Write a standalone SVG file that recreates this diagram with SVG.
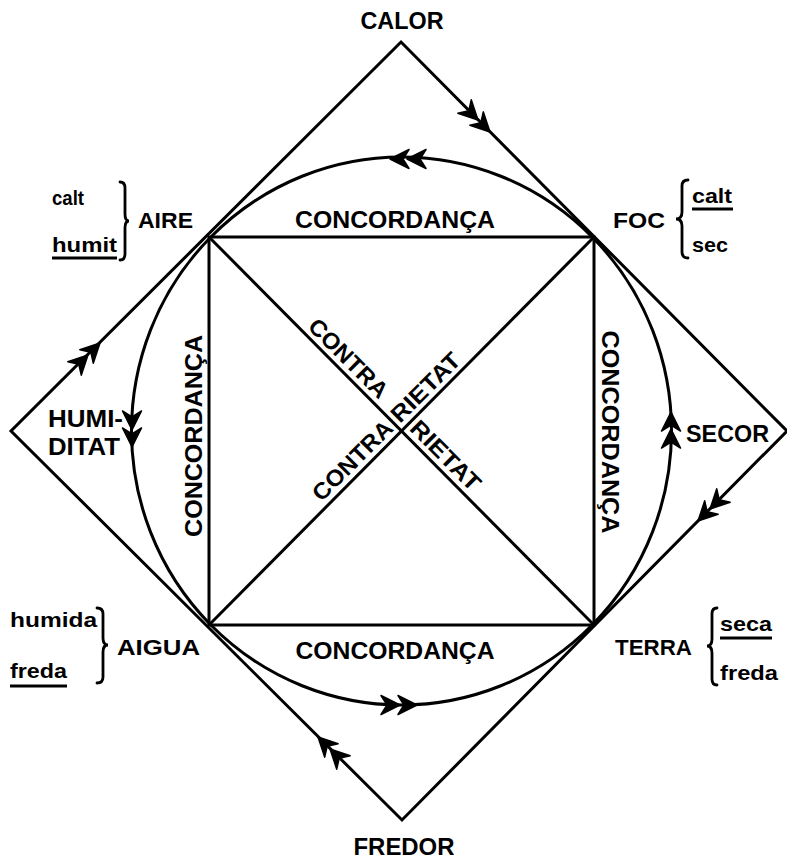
<svg xmlns="http://www.w3.org/2000/svg" width="787" height="859" viewBox="0 0 787 859">
<style>
.ln{fill:none;stroke:#000;stroke-width:3;stroke-linejoin:miter}
.br{fill:none;stroke:#000;stroke-width:2.8;stroke-linecap:round}
.t{font-family:"Liberation Sans",Arial,sans-serif;font-weight:bold;fill:#000}
.cap{font-size:23px}
.nm{font-size:22px}
.lc{font-size:21px}
.ul{stroke:#000;stroke-width:3}
.ah{fill:#000;stroke:#000;stroke-width:1.5;stroke-linejoin:round}
</style>
<defs>
<g id="dbl" class="ah">
<path d="M0,0 L-19,-9.5 L-13,0 L-19,9.5 Z"/>
<path d="M-17,0 L-36,-9.5 L-30,0 L-36,9.5 Z"/>
</g>
</defs>
<rect width="787" height="859" fill="#fff"/>
<g id="connectors">
<polygon class="ln" points="401,42 787,431 402,820 11,431"/>
<ellipse class="ln" cx="401.5" cy="431" rx="270" ry="274"/>
<rect class="ln" x="209" y="237" width="385" height="388"/>
<line class="ln" x1="209" y1="237" x2="594" y2="625"/>
<line class="ln" x1="594" y1="237" x2="209" y2="625"/>
<use href="#dbl" transform="translate(490,132) rotate(45)"/>
<use href="#dbl" transform="translate(390,159) rotate(180)"/>
<use href="#dbl" transform="translate(100,343) rotate(-45)"/>
<use href="#dbl" transform="translate(132,447) rotate(90)"/>
<use href="#dbl" transform="translate(671,412) rotate(-90)"/>
<use href="#dbl" transform="translate(698,521) rotate(135)"/>
<use href="#dbl" transform="translate(417,705)"/>
<use href="#dbl" transform="translate(318,737) rotate(-135)"/>
</g>
<g id="calor"><text class="t" font-size="23" x="402" y="29" text-anchor="middle" textLength="83" lengthAdjust="spacingAndGlyphs">CALOR</text></g>
<g id="fredor"><text class="t" font-size="24" x="404" y="855" text-anchor="middle" textLength="101" lengthAdjust="spacingAndGlyphs">FREDOR</text></g>
<g id="humiditat">
<text class="t cap" x="48" y="427" textLength="75" lengthAdjust="spacingAndGlyphs">HUMI-</text>
<text class="t cap" x="48" y="455" textLength="72" lengthAdjust="spacingAndGlyphs">DITAT</text>
</g>
<g id="secor"><text class="t cap" x="686" y="442" textLength="83" lengthAdjust="spacingAndGlyphs">SECOR</text></g>
<g id="aire">
<text class="t lc" x="52" y="205" textLength="32" lengthAdjust="spacingAndGlyphs">calt</text>
<text class="t lc" x="52" y="252" textLength="65" lengthAdjust="spacingAndGlyphs">humit</text>
<line class="ul" x1="52" y1="258" x2="117" y2="258"/>
<path class="br" d="M120,182 Q125,182 125,188 L125,214 Q125,221 129,221 Q125,221 125,228 L125,254 Q125,260 120,260"/>
<text class="t nm" x="138" y="228" textLength="55" lengthAdjust="spacingAndGlyphs">AIRE</text>
</g>
<g id="foc">
<text class="t nm" x="613" y="228" textLength="52" lengthAdjust="spacingAndGlyphs">FOC</text>
<path class="br" d="M688,180 Q682,180 682,186 L682,212 Q682,219 676,219 Q682,219 682,226 L682,252 Q682,258 688,258"/>
<text class="t lc" x="692" y="203" textLength="40" lengthAdjust="spacingAndGlyphs">calt</text>
<line class="ul" x1="692" y1="209" x2="733" y2="209"/>
<text class="t lc" x="692" y="252" textLength="36" lengthAdjust="spacingAndGlyphs">sec</text>
</g>
<g id="aigua">
<text class="t lc" x="10" y="627" textLength="87" lengthAdjust="spacingAndGlyphs">humida</text>
<text class="t lc" x="10" y="678" textLength="57" lengthAdjust="spacingAndGlyphs">freda</text>
<line class="ul" x1="10" y1="686" x2="67" y2="686"/>
<path class="br" d="M97,608 Q103,608 103,614 L103,638 Q103,645 108,645 Q103,645 103,652 L103,677 Q103,683 97,683"/>
<text class="t nm" x="117" y="655" textLength="83" lengthAdjust="spacingAndGlyphs">AIGUA</text>
</g>
<g id="terra">
<text class="t nm" x="615" y="655" textLength="77" lengthAdjust="spacingAndGlyphs">TERRA</text>
<path class="br" d="M717,608 Q712,608 712,614 L712,639 Q712,646 707,646 Q712,646 712,653 L712,679 Q712,685 717,685"/>
<text class="t lc" x="720" y="631" textLength="52" lengthAdjust="spacingAndGlyphs">seca</text>
<line class="ul" x1="720" y1="638" x2="772" y2="638"/>
<text class="t lc" x="720" y="680" textLength="58" lengthAdjust="spacingAndGlyphs">freda</text>
</g>
<g id="concordanca-top"><text class="t cap" x="395" y="228" text-anchor="middle" textLength="200" lengthAdjust="spacingAndGlyphs">CONCORDANÇA</text></g>
<g id="concordanca-bottom"><text class="t cap" x="395" y="659" text-anchor="middle" textLength="199" lengthAdjust="spacingAndGlyphs">CONCORDANÇA</text></g>
<g id="concordanca-left"><text class="t cap" transform="translate(202,436) rotate(-90)" x="0" y="0" text-anchor="middle" textLength="202" lengthAdjust="spacingAndGlyphs">CONCORDANÇA</text></g>
<g id="concordanca-right"><text class="t cap" transform="translate(602,432) rotate(90)" x="0" y="0" text-anchor="middle" textLength="203" lengthAdjust="spacingAndGlyphs">CONCORDANÇA</text></g>
<g id="contrarietat-1" transform="translate(401.5,431) rotate(45)">
<text class="t cap" x="-140" y="-6" textLength="102" lengthAdjust="spacingAndGlyphs">CONTRA</text>
<text class="t cap" x="4" y="-6" textLength="89" lengthAdjust="spacingAndGlyphs">RIETAT</text>
</g>
<g id="contrarietat-2" transform="translate(401.5,431) rotate(-45)">
<text class="t cap" x="-107" y="-6" textLength="103" lengthAdjust="spacingAndGlyphs">CONTRA</text>
<text class="t cap" x="4" y="-6" textLength="88" lengthAdjust="spacingAndGlyphs">RIETAT</text>
</g>
</svg>
